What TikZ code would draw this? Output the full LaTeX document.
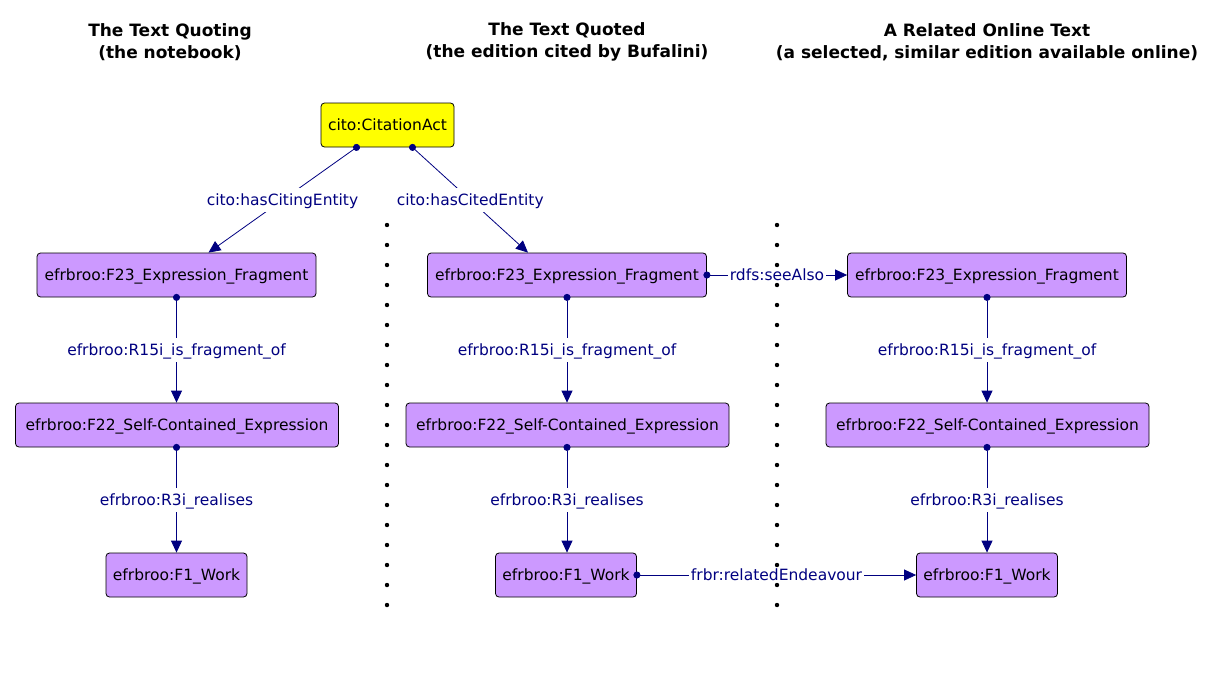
\documentclass[tikz,border=0pt]{standalone}
\usepackage{fontspec}
\setmainfont{DejaVu Sans}
\usetikzlibrary{arrows.meta}

\definecolor{lilac}{HTML}{CC99FF}
\definecolor{citeyellow}{HTML}{FFFF00}
\definecolor{propblue}{HTML}{000080}

\tikzset{
	cls/.style={draw=black, line width=0.8pt, fill=lilac, rounded corners=3.5pt,
		minimum height=44pt, inner xsep=0pt, text height=11.3pt, text depth=0pt,
		font=\fontsize{15.5}{18}\selectfont},
	act/.style={cls, fill=citeyellow, minimum width=133pt},
	frag/.style={cls, minimum width=279pt},
	selfc/.style={cls, minimum width=323pt},
	work/.style={cls, minimum width=141pt},
	prop/.style={draw=propblue, line width=0.8pt, shorten <=-3.5pt,
		{Circle[length=7pt]}-{Triangle[length=12pt,width=11pt]}},
	plabel/.style={fill=white, text=propblue, inner xsep=2pt, inner ysep=3pt,
		text height=14.8pt, text depth=3.5pt, font=\fontsize{15.5}{18}\selectfont},
	heading/.style={align=center, font=\bfseries\fontsize{17}{22}\selectfont}
}

\begin{document}
\begin{tikzpicture}[x=1pt,y=-1pt]
	\useasboundingbox (0,0) rectangle (1228,672);

	% headings
	\node[heading] (hquoting) at (170,42) {The Text Quoting\\(the notebook)};
	\node[heading] (hquoted) at (567,42) {The Text Quoted\\(the edition cited by Bufalini)};
	\node[heading] (honline) at (987,42) {A Related Online Text\\(a selected, similar edition available online)};

	% citation act
	\node[act] (act) at (387.5,125) {cito:CitationAct};

	% the text quoting
	\node[frag] (fragA) at (176.5,275) {efrbroo:F23\_Expression\_Fragment};
	\node[selfc] (exprA) at (177,425) {efrbroo:F22\_Self-Contained\_Expression};
	\node[work] (workA) at (176.5,575) {efrbroo:F1\_Work};

	% the text quoted
	\node[frag] (fragB) at (567,275) {efrbroo:F23\_Expression\_Fragment};
	\node[selfc] (exprB) at (567.5,425) {efrbroo:F22\_Self-Contained\_Expression};
	\node[work] (workB) at (566,575) {efrbroo:F1\_Work};

	% the related online text
	\node[frag] (fragC) at (987,275) {efrbroo:F23\_Expression\_Fragment};
	\node[selfc] (exprC) at (987.5,425) {efrbroo:F22\_Self-Contained\_Expression};
	\node[work] (workC) at (987,575) {efrbroo:F1\_Work};

	% properties
	\draw[prop] ([xshift=-31pt]act.south) -- node[plabel] {cito:hasCitingEntity} ([xshift=32pt]fragA.north);
	\draw[prop] ([xshift=25pt]act.south) -- node[plabel] {cito:hasCitedEntity} ([xshift=-39pt]fragB.north);

	\draw[prop] (fragA.south) -- node[plabel] {efrbroo:R15i\_is\_fragment\_of} (exprA.north -| fragA.south);
	\draw[prop] (exprA.south -| fragA.south) -- node[plabel] {efrbroo:R3i\_realises} (workA.north -| fragA.south);
	\draw[prop] (fragB.south) -- node[plabel] {efrbroo:R15i\_is\_fragment\_of} (exprB.north -| fragB.south);
	\draw[prop] (exprB.south -| fragB.south) -- node[plabel] {efrbroo:R3i\_realises} (workB.north -| fragB.south);
	\draw[prop] (fragC.south) -- node[plabel] {efrbroo:R15i\_is\_fragment\_of} (exprC.north -| fragC.south);
	\draw[prop] (exprC.south -| fragC.south) -- node[plabel] {efrbroo:R3i\_realises} (workC.north -| fragC.south);

	\draw[prop] (fragB.east) -- node[plabel] {rdfs:seeAlso} (fragC.west);
	\draw[prop] (workB.east) -- node[plabel] {frbr:relatedEndeavour} (workC.west);

	% separators
	\foreach \y in {225,245,...,605} {
		\fill (387,\y) circle (2.2pt);
		\fill (777,\y) circle (2.2pt);
	}

\end{tikzpicture}
\end{document}
